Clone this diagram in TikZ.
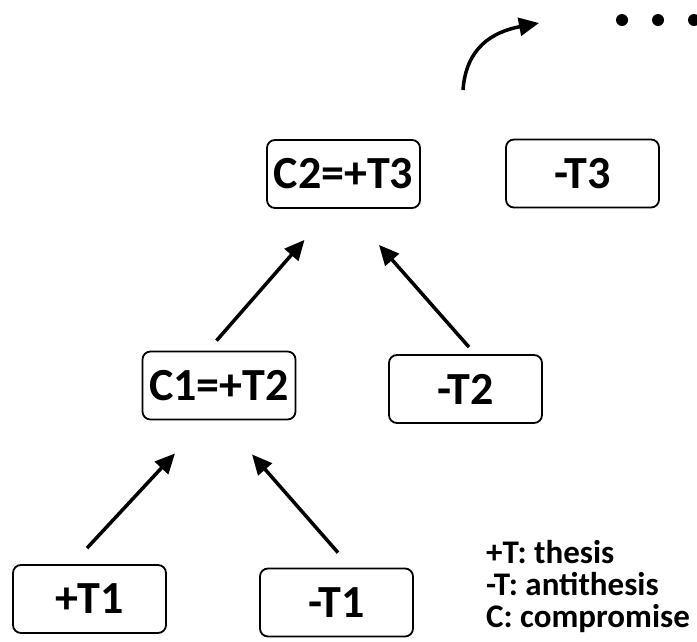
\documentclass[tikz,border=0pt]{standalone}
\usepackage{fontspec}
\setmainfont{Carlito}
\usetikzlibrary{arrows.meta}

\begin{document}
\begin{tikzpicture}[x=1pt, y=-1pt,
    box/.style={rectangle, draw, line width=1.8pt, rounded corners=8pt,
        minimum width=153pt, minimum height=68pt, inner sep=0pt,
        font=\fontsize{46}{54}\selectfont\bfseries},
    arrow/.style={line width=3.5pt, -{Triangle[length=20pt,width=18pt]}},
    legend/.style={anchor=base west, inner sep=0pt, font=\fontsize{33}{40}\selectfont\bfseries},
    dot/.style={circle, fill, inner sep=0pt, minimum size=12pt}]

    \useasboundingbox (0,0) rectangle (697,641);

    \node[box] (plusT1) at (89.5,599) {+T1};
    \node[box] (minusT1) at (336.5,602.5) {-T1};
    \node[box] (C1) at (219,385.5) {C1=+T2};
    \node[box] (minusT2) at (465.5,389) {-T2};
    \node[box] (C2) at (343.5,174) {C2=+T3};
    \node[box] (minusT3) at (582.5,173.5) {-T3};

    \draw[arrow] ([xshift=-2.5pt,yshift=16pt]plusT1.north) -- ([xshift=-44pt,yshift=-33pt]C1.south);
    \draw[arrow] ([xshift=1.5pt,yshift=15pt]minusT1.north) -- ([xshift=33pt,yshift=-34pt]C1.south);
    \draw[arrow] ([xshift=-2.5pt,yshift=10pt]C1.north) -- ([xshift=-39pt,yshift=-31pt]C2.south);
    \draw[arrow] ([xshift=3.5pt,yshift=7pt]minusT2.north) -- ([xshift=35.5pt,yshift=-36pt]C2.south);

    % next step
    \coordinate (nextstart) at (463,90);
    \coordinate (nextend) at (539,23);
    \draw[arrow] (nextstart) .. controls (466,48) and (492,32) .. (nextend);
    \foreach \x [count=\i] in {622,658,694}
        \node[dot] (dot\i) at (\x,20) {};

    % legend
    \node[legend] (legendT) at (486,563) {+T: thesis};
    \node[legend] (legendA) at (486,595) {-T: antithesis};
    \node[legend] (legendC) at (486,627) {C: compromise};

\end{tikzpicture}
\end{document}
